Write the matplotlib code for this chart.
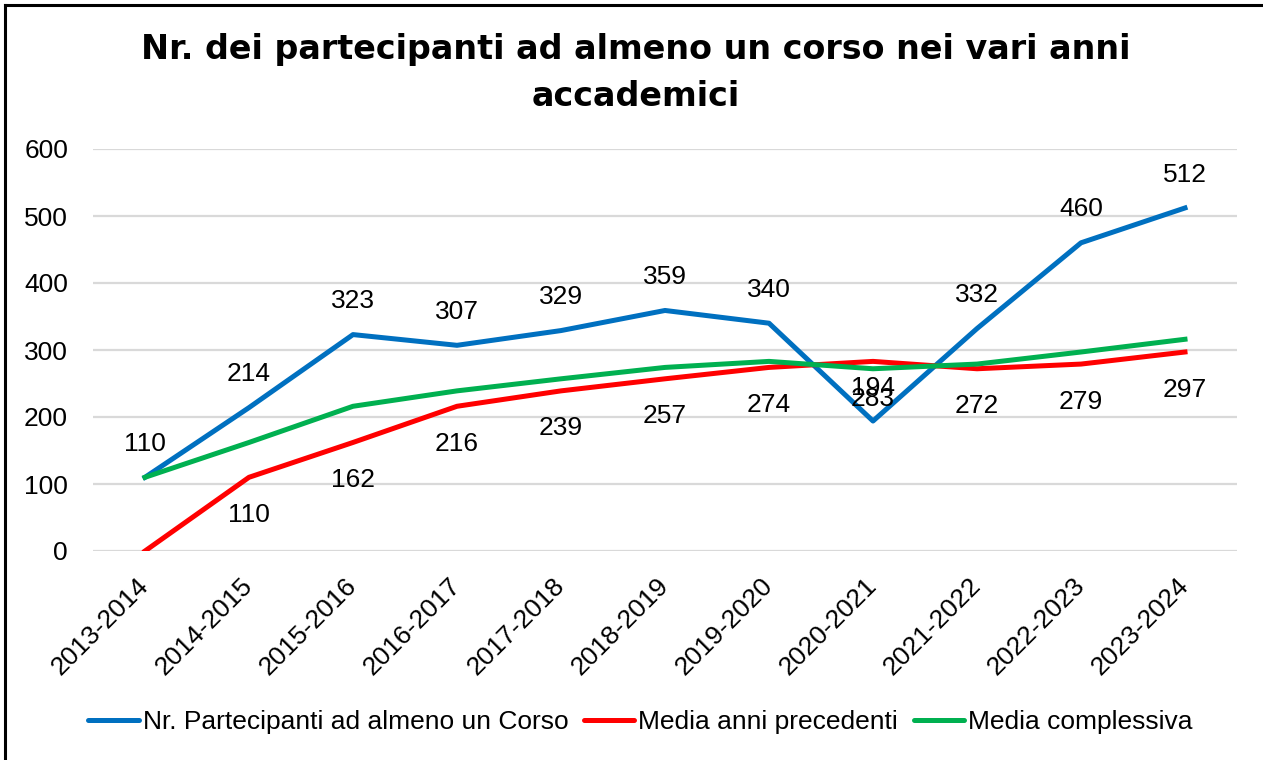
import matplotlib
matplotlib.use("Agg")
import matplotlib.pyplot as plt
from matplotlib.lines import Line2D

categories = ["2013-2014", "2014-2015", "2015-2016", "2016-2017", "2017-2018",
              "2018-2019", "2019-2020", "2020-2021", "2021-2022", "2022-2023", "2023-2024"]
partecipanti = [110, 214, 323, 307, 329, 359, 340, 194, 332, 460, 512]
media_prec = [0, 110, 162, 216, 239, 257, 274, 283, 272, 279, 297]
media_compl = [110, 162, 216, 239, 257, 274, 283, 272, 279, 297, 316]
yticks = [0, 100, 200, 300, 400, 500, 600]

title = "Nr. dei partecipanti ad almeno un corso nei vari anni\naccademici"
labels = ["Nr. Partecipanti ad almeno un Corso", "Media anni precedenti", "Media complessiva"]
colors = ["#0070C0", "#FF0000", "#00B050"]

W, H = 1263, 760
fig = plt.figure(figsize=(W / 100, H / 100), dpi=100)
ax = fig.add_axes([93 / W, 1 - 551 / H, (1237 - 93) / W, (551 - 149) / H])

FONT = "Liberation Sans"
FS = 19
x = list(range(len(categories)))
lw = 3.6
ax.plot(x, partecipanti, color=colors[0], lw=lw, zorder=3)
ax.plot(x, media_prec, color=colors[1], lw=lw, zorder=3)
ax.plot(x, media_compl, color=colors[2], lw=lw, zorder=4)

for xi, v in zip(x, partecipanti):
    ax.annotate(str(v), (xi, v), xytext=(0, 24), textcoords="offset points",
                ha="center", va="center", fontsize=FS, family=FONT, color="#000000", zorder=5)
for xi, v in zip(x[1:], media_prec[1:]):
    ax.annotate(str(v), (xi, v), xytext=(0, -27), textcoords="offset points",
                ha="center", va="center", fontsize=FS, family=FONT, color="#000000", zorder=5)

ax.set_xlim(-0.5, len(categories) - 0.5)
ax.set_ylim(0, 600)
ax.set_yticks(yticks)
ax.set_yticklabels([str(t) for t in yticks], fontsize=FS, family=FONT)
ax.set_xticks(x)
ax.set_xticklabels(categories, rotation=45, ha="right", va="center", rotation_mode="anchor",
                   fontsize=FS, family=FONT)
ax.tick_params(axis="both", length=0)
ax.tick_params(axis="y", pad=18)
ax.tick_params(axis="x", pad=22)
ax.grid(axis="y", color="#D9D9D9", lw=1.6)
ax.set_axisbelow(True)
for s in ax.spines.values():
    s.set_visible(False)

fig.text(0.503, 1 - 73 / H, title, ha="center", va="center", fontsize=24,
         fontweight="bold", family="DejaVu Sans", linespacing=1.5)

handles = [Line2D([0], [0], color=c, lw=lw, solid_capstyle="round") for c in colors]
fig.legend(handles, labels, loc="center", bbox_to_anchor=(0.507, 1 - 722 / H), ncol=3,
           frameon=False, prop={"family": FONT, "size": FS}, handlelength=1.9,
           handletextpad=0.15, columnspacing=0.6)

# border (left and top visible)
fig.add_artist(Line2D([5 / W, 5 / W], [0, 1 - 5 / H], color="black", lw=2.2,
                      transform=fig.transFigure))
fig.add_artist(Line2D([5 / W, 1], [1 - 5 / H, 1 - 5 / H], color="black", lw=2.2,
                      transform=fig.transFigure))

fig.savefig("out.png", dpi=100)
